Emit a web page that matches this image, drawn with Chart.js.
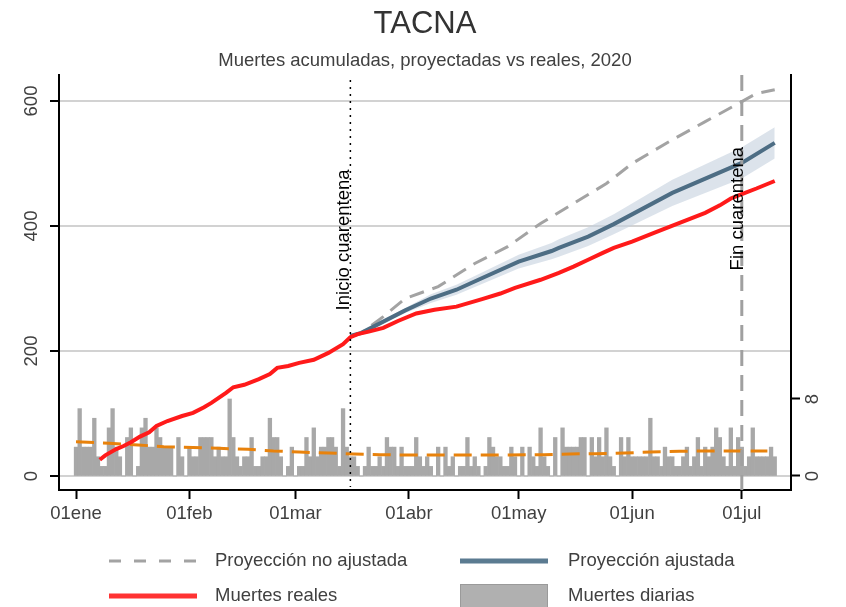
<!DOCTYPE html>
<html>
<head>
<meta charset="utf-8">
<title>TACNA</title>
<script src="https://cdn.jsdelivr.net/npm/chart.js@4.4.0/dist/chart.umd.min.js"></script>
<style>
  html, body { margin: 0; padding: 0; background: #fff; }
  #wrap { width: 846px; height: 607px; }
</style>
</head>
<body>
<div id="wrap"><canvas id="deathsChart" width="846" height="607"></canvas></div>
<script>
// days counted from 01 ene 2020 (day 0)
const tickDays = [0, 31, 60, 91, 121, 152, 182];
const tickLabels = ["01ene", "01feb", "01mar", "01abr", "01may", "01jun", "01jul"];
const leftTicks = [0, 200, 400, 600];
const rightTicks = [0, 8];

const quarantineStart = 75;
const quarantineEnd = 182;

// daily deaths, days 0..191
const dailyDeaths = [
  3, 7, 3, 3, 3, 6, 2, 1, 1, 5, 7, 3, 2, 0, 4, 5, 0, 1, 5, 6, 3, 3, 5, 4, 3,
  3, 3, 0, 4, 2, 0, 3, 2, 2, 4, 4, 4, 4, 2, 3, 2, 2, 8, 4, 2,
  1, 2, 2, 4, 1, 1, 2, 2, 6, 4, 4, 2, 0, 1, 3, 0, 1, 1, 4, 2, 5, 2, 3, 3, 4,
  4, 3, 1, 7, 3, 2, 2, 1, 0, 1, 3, 1, 1, 2, 1, 4, 3, 3, 1,
  3, 1, 1, 1, 4, 2, 1, 2, 1, 0, 3, 0, 3, 1, 2, 0, 1, 1, 4, 1, 2, 1, 0, 1, 4,
  3, 2, 2, 1, 1, 3, 2, 0, 3, 0, 3, 2, 1, 5, 2, 1, 0, 4, 0, 5, 3, 3,
  3, 3, 4, 4, 0, 4, 2, 4, 2, 5, 2, 1, 0, 4, 2, 4, 2, 2, 2, 2, 2, 6, 2, 2, 1,
  3, 2, 2, 1, 1, 2, 3, 1, 2, 4, 1, 3, 2, 3, 5, 4, 2, 1, 5, 1, 4, 3, 1, 2, 5,
  2, 2, 2, 2, 3, 2
];

const trendDays = [0, 9, 17, 24, 39, 47, 54, 61, 69, 76, 83, 91, 118, 128, 135, 142, 150, 157, 165, 172, 189];
const trendDaily = [3.55, 3.4, 3.22, 3.05, 2.88, 2.77, 2.6, 2.49, 2.39, 2.29, 2.22, 2.18, 2.18, 2.22, 2.29, 2.32, 2.39, 2.49, 2.56, 2.6, 2.6];

const realDays = [6.5, 8, 11, 13, 15, 17.5, 20, 22, 25, 29, 32, 35, 37, 41, 43, 46, 50, 53, 55, 58, 61, 65, 69, 73, 75, 77, 80, 84, 88, 93, 98, 104, 111, 116, 120, 127, 132, 136, 140, 144, 147, 152, 158, 165, 172, 176, 179, 182, 186, 191];
const realDeaths = [26, 33, 43, 48, 54, 63, 70, 80, 88, 96, 101, 110, 117, 133, 142, 146, 155, 163, 173, 176, 181, 186, 197, 211, 222, 227, 231, 237, 248, 260, 266, 271, 283, 292, 301, 314, 325, 335, 346, 357, 365, 375, 389, 405, 421, 433, 444, 451, 460, 472];

const adjDays = [75, 78, 90, 97, 104, 110, 121, 130, 132, 140, 147, 163, 182, 191];
const adjProj = [224, 229, 265, 284, 298, 314, 343, 360, 365, 383, 403, 453, 501, 533];
const adjUpper = [224, 231, 269, 291, 306, 323, 354, 373, 379, 398, 419, 474, 526, 558];
const adjLower = [224, 227, 261, 277, 290, 305, 332, 347, 351, 368, 387, 432, 476, 508];

const rawDays = [75, 78, 84, 90, 99, 109, 118, 127, 136, 145, 152, 163, 172, 182, 186, 191];
const rawProj = [224, 229, 255, 284, 303, 340, 367, 404, 436, 468, 500, 538, 567, 599, 612, 618];

const FONT = '"Liberation Sans", Arial, Helvetica, sans-serif';
const TEXT = "#404040";

function points(xs, ys) {
  return xs.map((d, i) => ({ x: d, y: ys[i] }));
}

const overlayPlugin = {
  id: "overlay",
  afterDatasetsDraw(chart) {
    const { ctx, chartArea, scales } = chart;
    const x = scales.x;
    const y = scales.y;
    const xs = x.getPixelForValue(quarantineStart);
    const xe = x.getPixelForValue(quarantineEnd);

    ctx.save();
    // inicio cuarentena: dotted black
    ctx.strokeStyle = "#000";
    ctx.lineWidth = 1.5;
    ctx.setLineDash([2, 5]);
    ctx.beginPath();
    ctx.moveTo(xs, chartArea.top + 5);
    ctx.lineTo(xs, chartArea.bottom - 3);
    ctx.stroke();

    // fin cuarentena: grey dashed
    ctx.strokeStyle = "#a0a0a0";
    ctx.lineWidth = 3;
    ctx.setLineDash([16, 9]);
    ctx.beginPath();
    ctx.moveTo(xe, chartArea.top);
    ctx.lineTo(xe, chartArea.bottom);
    ctx.stroke();
    ctx.setLineDash([]);

    ctx.fillStyle = "#000";
    ctx.font = `18.5px ${FONT}`;
    ctx.textAlign = "left";
    ctx.textBaseline = "alphabetic";

    ctx.save();
    ctx.translate(xs - 1.5, y.getPixelForValue(265));
    ctx.rotate(-Math.PI / 2);
    ctx.fillText("Inicio cuarentena", 0, 0);
    ctx.restore();

    ctx.save();
    ctx.translate(xe + 1.5, y.getPixelForValue(329));
    ctx.rotate(-Math.PI / 2);
    ctx.fillText("Fin cuarentena", 0, 0);
    ctx.restore();

    ctx.restore();
  },
  afterDraw(chart) {
    const { ctx } = chart;
    ctx.save();
    ctx.fillStyle = "#333";
    ctx.textAlign = "center";
    ctx.textBaseline = "alphabetic";
    ctx.font = `31px ${FONT}`;
    ctx.fillText("TACNA", 425, 33);
    ctx.fillStyle = TEXT;
    ctx.font = `18.5px ${FONT}`;
    ctx.fillText("Muertes acumuladas, proyectadas vs reales, 2020", 425, 66);

    // legend
    ctx.textAlign = "left";
    ctx.textBaseline = "middle";
    const row1 = 561;
    const row2 = 596;

    ctx.lineWidth = 3;
    ctx.strokeStyle = "#a3a3a3";
    ctx.setLineDash([12, 13]);
    ctx.beginPath();
    ctx.moveTo(109, row1);
    ctx.lineTo(197, row1);
    ctx.stroke();
    ctx.setLineDash([]);

    ctx.lineWidth = 5;
    ctx.strokeStyle = "#5b7b91";
    ctx.beginPath();
    ctx.moveTo(460, row1);
    ctx.lineTo(548, row1);
    ctx.stroke();

    ctx.strokeStyle = "#ff3333";
    ctx.beginPath();
    ctx.moveTo(109, row2);
    ctx.lineTo(197, row2);
    ctx.stroke();

    ctx.fillStyle = "#b0b0b0";
    ctx.fillRect(460, 584, 88, 26);
    ctx.strokeStyle = "#9a9a9a";
    ctx.lineWidth = 1;
    ctx.strokeRect(460.5, 584.5, 87, 26);

    ctx.fillStyle = TEXT;
    ctx.font = `18.5px ${FONT}`;
    ctx.fillText("Proyección no ajustada", 215, row1);
    ctx.fillText("Proyección ajustada", 568, row1);
    ctx.fillText("Muertes reales", 215, row2);
    ctx.fillText("Muertes diarias", 568, row2);
    ctx.restore();
  },
};

const tickFont = { family: FONT, size: 18.5 };

new Chart(document.getElementById("deathsChart"), {
  type: "bar",
  data: {
    datasets: [
      {
        type: "line",
        label: "Muertes reales",
        data: points(realDays, realDeaths),
        borderColor: "#ff1a1a",
        borderWidth: 4,
        pointRadius: 0,
        yAxisID: "y",
      },
      {
        type: "line",
        label: "Proyección ajustada",
        data: points(adjDays, adjProj),
        borderColor: "#4d6d84",
        borderWidth: 4,
        pointRadius: 0,
        yAxisID: "y",
      },
      {
        type: "line",
        label: "Proyección no ajustada",
        data: points(rawDays, rawProj),
        borderColor: "#a3a3a3",
        borderWidth: 3,
        borderDash: [15, 9],
        pointRadius: 0,
        yAxisID: "y",
      },
      {
        type: "line",
        label: "Tendencia diaria",
        data: points(trendDays, trendDaily),
        borderColor: "#e8820c",
        borderWidth: 3,
        borderDash: [18, 9],
        pointRadius: 0,
        yAxisID: "y2",
      },
      {
        type: "line",
        label: "IC superior",
        data: points(adjDays, adjUpper),
        borderColor: "transparent",
        borderWidth: 1,
        backgroundColor: "rgba(196, 209, 221, 0.6)",
        fill: "+1",
        pointRadius: 0,
        yAxisID: "y",
      },
      {
        type: "line",
        label: "IC inferior",
        data: points(adjDays, adjLower),
        borderColor: "transparent",
        borderWidth: 1,
        fill: false,
        pointRadius: 0,
        yAxisID: "y",
      },
      {
        type: "bar",
        label: "Muertes diarias",
        data: dailyDeaths.map((v, i) => ({ x: i, y: v })),
        backgroundColor: "#a8a8a8",
        borderWidth: 0,
        barPercentage: 1,
        categoryPercentage: 1,
        yAxisID: "y2",
      },
    ],
  },
  options: {
    responsive: false,
    devicePixelRatio: 1,
    animation: false,
    events: [],
    layout: { padding: { top: 75, left: 0, right: 0, bottom: 0 } },
    plugins: {
      legend: { display: false },
      title: { display: false },
      tooltip: { enabled: false },
    },
    scales: {
      x: {
        type: "linear",
        min: -4.65,
        max: 195.45,
        offset: false,
        afterBuildTicks: (axis) => {
          axis.ticks = tickDays.map((v) => ({ value: v }));
        },
        afterFit: (axis) => {
          axis.height = 117;
        },
        ticks: {
          callback: (v, i) => tickLabels[i],
          font: tickFont,
          color: TEXT,
          padding: 4,
          autoSkip: false,
          minRotation: 0,
          maxRotation: 0,
        },
        grid: {
          offset: false,
          drawOnChartArea: false,
          tickLength: 9,
          tickColor: "#000",
          tickWidth: 2,
        },
        border: { color: "#000", width: 2 },
      },
      y: {
        position: "left",
        min: -22.4,
        max: 641.6,
        afterBuildTicks: (axis) => {
          axis.ticks = leftTicks.map((v) => ({ value: v }));
        },
        afterFit: (axis) => {
          axis.width = 59;
        },
        ticks: {
          font: tickFont,
          color: TEXT,
          padding: 3,
          minRotation: 90,
          maxRotation: 90,
          crossAlign: "center",
        },
        grid: {
          color: "#d2d2d2",
          lineWidth: 2,
          tickLength: 9,
          tickColor: "#000",
          tickWidth: 2,
        },
        border: { color: "#000", width: 2 },
      },
      y2: {
        position: "right",
        min: -1.4545,
        max: 41.66,
        afterBuildTicks: (axis) => {
          axis.ticks = rightTicks.map((v) => ({ value: v }));
        },
        afterFit: (axis) => {
          axis.width = 55;
        },
        ticks: {
          font: tickFont,
          color: TEXT,
          padding: 8,
          minRotation: 90,
          maxRotation: 90,
          crossAlign: "center",
        },
        grid: {
          drawOnChartArea: false,
          tickLength: 9,
          tickColor: "#000",
          tickWidth: 2,
        },
        border: { color: "#000", width: 2 },
      },
    },
  },
  plugins: [overlayPlugin],
});
</script>
</body>
</html>
